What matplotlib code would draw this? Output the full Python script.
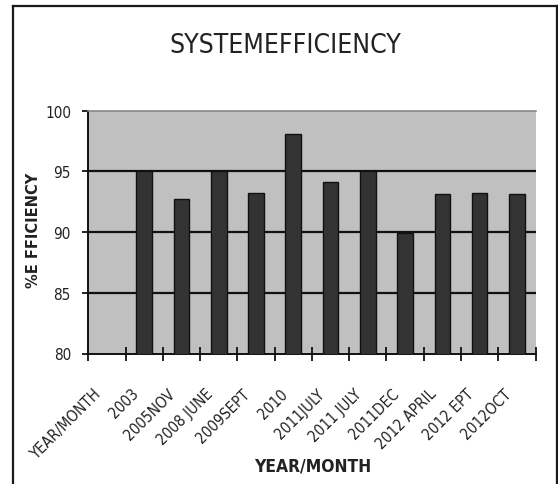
import numpy as np
import matplotlib
matplotlib.use("Agg")
import matplotlib.pyplot as plt
from matplotlib.transforms import ScaledTranslation
from matplotlib.lines import Line2D

categories = ["YEAR/MONTH", "2003", "2005NOV", "2008 JUNE", "2009SEPT", "2010",
              "2011JULY", "2011 JULY", "2011DEC", "2012 APRIL", "2012 EPT", "2012OCT"]
efficiency = [np.nan, 95.0, 92.7, 95.0, 93.2, 98.1, 94.1, 95.0, 89.9, 93.1, 93.2, 93.1]
yticks = [80, 85, 90, 95, 100]
title = "SYSTEMEFFICIENCY"
xlabel = "YEAR/MONTH"
ylabel = "%E FFICIENCY"

NARROW = dict(family="DejaVu Sans", stretch="condensed")

W, H = 558, 485
fig = plt.figure(figsize=(W / 100, H / 100), dpi=100)
fig.patch.set_facecolor("white")

# outer frame
for (x0, y0, x1, y1) in [(13, 7.3, 556.5, 7.3), (13, 7.3, 13, 490), (556.5, 7.3, 556.5, 490)]:
    fig.add_artist(Line2D([x0 / W, x1 / W], [1 - y0 / H, 1 - y1 / H],
                          color="#1a1a1a", lw=1.6, transform=fig.transFigure))

left, right = 88.3 / W, 535.5 / W
top, bottom = 1 - 111.7 / H, 1 - 354.5 / H
ax = fig.add_axes([left, bottom, right - left, top - bottom])
ax.set_facecolor("#c0c0c0")

n = len(categories)
x = np.arange(n)
ax.bar(x, efficiency, width=0.42, bottom=0, color="#333333",
       edgecolor="#111111", linewidth=1.0, zorder=3)

ax.set_xlim(-0.5, n - 0.5)
ax.set_ylim(80, 100)
ax.set_yticks(yticks)
ax.set_yticklabels([str(v) for v in yticks], fontsize=11, color="#222222", **NARROW)
for v in yticks[1:-1]:
    ax.axhline(v, color="#111111", lw=1.6, zorder=2)

# category boundary ticks
ax.set_xticks(np.arange(n + 1) - 0.5)
ax.set_xticklabels([])
ax.tick_params(axis="x", which="major", direction="inout", length=10, width=1.3, color="#111111")
ax.tick_params(axis="y", which="major", direction="out", length=4.5, width=1.3, color="#111111", pad=8)
# category labels
ax.set_xticks(x, minor=True)
ax.set_xticklabels(categories, minor=True, rotation=45, ha="right", va="top",
                   fontsize=11, color="#222222", **NARROW)
ax.tick_params(axis="x", which="minor", length=0, pad=23)
off = ScaledTranslation(-3 / 100, 0, fig.dpi_scale_trans)
for lab in ax.get_xticklabels(minor=True):
    lab.set_transform(lab.get_transform() + off)

for s in ["left", "bottom"]:
    ax.spines[s].set_color("#111111")
    ax.spines[s].set_linewidth(1.4)
ax.spines["right"].set_visible(False)
ax.spines["top"].set_color("#888888")
ax.spines["top"].set_linewidth(1.2)

fig.text(285.6 / W, 1 - 46 / H, title, ha="center", va="center",
         fontsize=19, color="#222222", **NARROW)
fig.text(313 / W, 1 - 467 / H, xlabel, ha="center", va="center",
         fontsize=12.5, fontweight="bold", color="#222222", **NARROW)
fig.text(34 / W, 1 - 230 / H, ylabel, ha="center", va="center", rotation=90,
         family="DejaVu Sans", fontsize=10.5, fontweight="bold",
         color="#222222")

fig.savefig("out.png", dpi=100, facecolor="white")
